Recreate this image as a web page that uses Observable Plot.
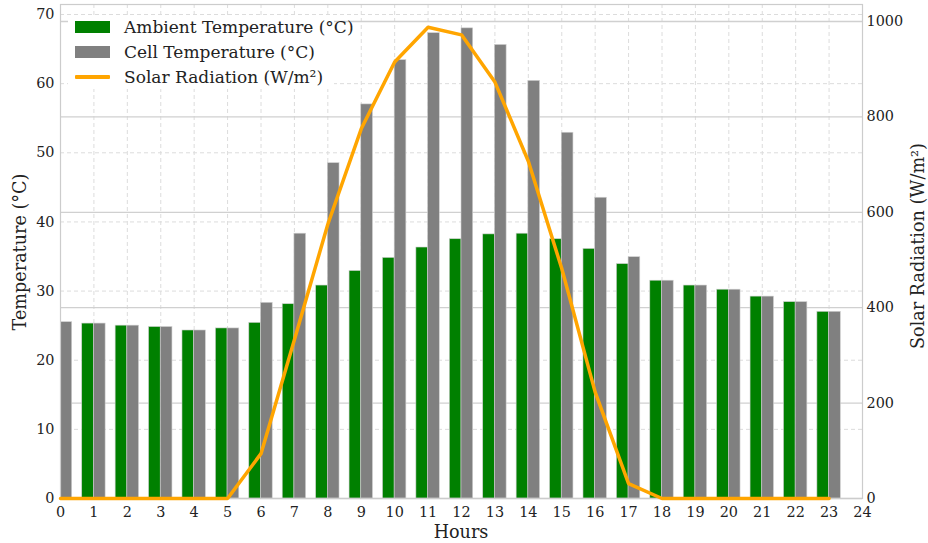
<!DOCTYPE html>
<html><head><meta charset="utf-8">
<script src="https://cdn.jsdelivr.net/npm/d3@7"></script>
<script src="https://cdn.jsdelivr.net/npm/@observablehq/plot@0.6"></script>
<style>
body{margin:0;background:#fff;font-family:"DejaVu Serif",serif;color:#222;}
#wrap{position:relative;width:928px;height:543px;overflow:hidden;}
#legend{position:absolute;left:68px;top:15px;width:266px;height:74px;background:#fff;}
.row{position:absolute;left:0;height:22px;display:flex;align-items:center;font-size:17px;white-space:nowrap;}
.sw{width:35px;margin-left:7px;margin-right:14px;}
.lab{position:absolute;font-size:17.6px;white-space:nowrap;line-height:20px;height:20px;transform:translate(-50%,-50%);}
.rot{transform:translate(-50%,-50%) rotate(-90deg);}
</style></head><body><div id="wrap"></div>
<script>
const hours = [0,1,2,3,4,5,6,7,8,9,10,11,12,13,14,15,16,17,18,19,20,21,22,23];
const ambient = [25.5,25.3,25.0,24.8,24.3,24.6,25.4,28.1,30.8,32.9,34.8,36.3,37.5,38.2,38.3,37.5,36.1,33.9,31.5,30.8,30.2,29.2,28.4,27.0];
const cell = [25.5,25.3,25.0,24.8,24.3,24.6,28.3,38.3,48.5,57.0,63.4,67.3,68.0,65.6,60.4,52.9,43.5,34.9,31.5,30.8,30.2,29.2,28.4,27.0];
const radiation = [0,0,0,0,0,0,94,333,575,775,915,988,972,873,707,482,223,31,0,0,0,0,0,0];
const hourTicks = [0,1,2,3,4,5,6,7,8,9,10,11,12,13,14,15,16,17,18,19,20,21,22,23,24];
const tempTicks = [0,10,20,30,40,50,60,70];
const radTicks = [0,200,400,600,800,1000];
const seriesNames = ["Ambient Temperature (°C)","Cell Temperature (°C)","Solar Radiation (W/m²)"];
const axisLabels = {x: "Hours", yLeft: "Temperature (°C)", yRight: "Solar Radiation (W/m²)"};
const colors = ["#008000","#808080","#FFA500"];

const FONT = '"DejaVu Serif", serif';
const tempMax = 71.45, radMax = 1035.6;
const k = tempMax / radMax;
const barW = 0.35;
const table = hours.map((h,i)=>({hour:h, ambient:ambient[i], cell:cell[i], rad:radiation[i]}));

const chart = Plot.plot({
  width: 928, height: 543,
  marginLeft: 60, marginRight: 66, marginTop: 4, marginBottom: 45,
  x: {domain: [0, 24]},
  y: {domain: [0, tempMax]},
  style: {fontFamily: FONT, fontSize: "14.4px", color: "#222", background: "#fff"},
  marks: [
    Plot.ruleX(hourTicks, {stroke: "#dcdcdc", strokeDasharray: "4,3", strokeWidth: 1}),
    Plot.ruleY(tempTicks, {stroke: "#dcdcdc", strokeDasharray: "4,3", strokeWidth: 1}),
    Plot.ruleY(radTicks, {y: d => d * k, stroke: "#d0d0d0", strokeWidth: 1.3}),
    Plot.rect(table, {x1: d => d.hour - barW, x2: d => d.hour, y1: 0, y2: "ambient", fill: colors[0], stroke: "#cfcfcf", strokeWidth: 0.6, clip: "frame", inset: 0}),
    Plot.rect(table, {x1: d => d.hour, x2: d => d.hour + barW, y1: 0, y2: "cell", fill: colors[1], stroke: "#cfcfcf", strokeWidth: 0.6, clip: "frame", inset: 0}),
    Plot.frame({stroke: "#cccccc", strokeWidth: 1.2}),
    Plot.line(table, {x: "hour", y: d => d.rad * k, stroke: colors[2], strokeWidth: 3.5, strokeLinejoin: "miter"}),
    Plot.axisX(hourTicks, {tickSize: 0, tickPadding: 8, label: null, fontSize: 14.4}),
    Plot.axisY(tempTicks, {anchor: "left", tickSize: 0, tickPadding: 6, label: null, fontSize: 14.4}),
    Plot.axisY(radTicks.map(v => v * k), {anchor: "right", tickSize: 0, tickPadding: 4, label: null, fontSize: 14.4, tickFormat: d => String(Math.round(d / k))})
  ]
});
chart.style.fontFamily = FONT;
chart.querySelectorAll("text, tspan, g").forEach(el => { el.style.fontFamily = FONT; el.removeAttribute("font-family"); });
const wrap = document.getElementById("wrap");
wrap.appendChild(chart);

function addLabel(text, cx, cy, rotate) {
  const d = document.createElement("div");
  d.className = "lab" + (rotate ? " rot" : "");
  d.style.left = cx + "px";
  d.style.top = cy + "px";
  d.textContent = text;
  wrap.appendChild(d);
}
addLabel(axisLabels.x, 461, 532, false);
addLabel(axisLabels.yLeft, 20, 252, true);
addLabel(axisLabels.yRight, 918, 246, true);

const legend = document.createElement("div");
legend.id = "legend";
const centers = [27, 52, 77];
seriesNames.forEach((name, i) => {
  const row = document.createElement("div");
  row.className = "row";
  row.style.top = (centers[i] - 15 - 11) + "px";
  const sw = document.createElement("div");
  sw.className = "sw";
  if (i < 2) { sw.style.height = "12px"; sw.style.background = colors[i]; }
  else { sw.style.height = "4px"; sw.style.background = colors[i]; sw.style.borderRadius = "1px"; }
  row.appendChild(sw);
  const t = document.createElement("span");
  t.textContent = name;
  row.appendChild(t);
  legend.appendChild(row);
});
wrap.appendChild(legend);
</script>
</body></html>
